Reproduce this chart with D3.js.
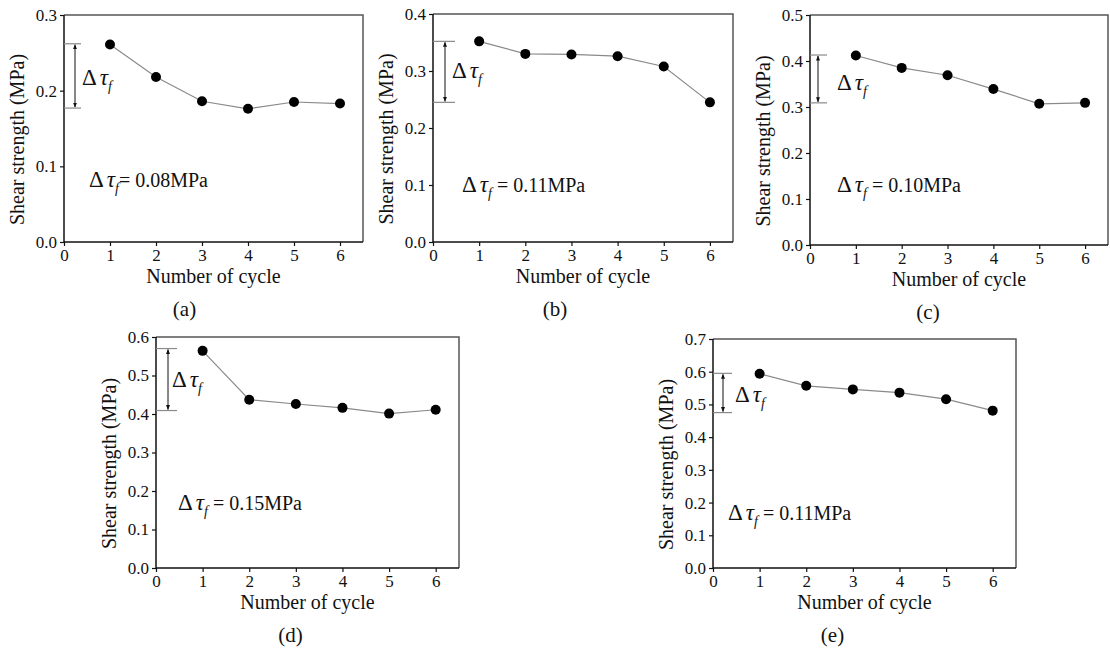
<!DOCTYPE html>
<html>
<head>
<meta charset="utf-8">
<script src="https://cdn.jsdelivr.net/npm/d3@7"></script>
<style>
  body { margin: 0; background: #fff; }
</style>
</head>
<body>
<svg id="chart" width="1110" height="652"></svg>
<script>
// data
const cycles = [1, 2, 3, 4, 5, 6];
const xTicks = [0, 1, 2, 3, 4, 5, 6];
const strengthA = [0.261, 0.218, 0.186, 0.176, 0.185, 0.183];
const strengthB = [0.352, 0.330, 0.329, 0.326, 0.308, 0.245];
const strengthC = [0.412, 0.385, 0.369, 0.339, 0.307, 0.309];
const strengthD = [0.564, 0.437, 0.426, 0.416, 0.401, 0.411];
const strengthE = [0.594, 0.557, 0.546, 0.536, 0.516, 0.481];
const yTicksA = [0, 0.1, 0.2, 0.3];
const yTicksB = [0, 0.1, 0.2, 0.3, 0.4];
const yTicksC = [0, 0.1, 0.2, 0.3, 0.4, 0.5];
const yTicksD = [0, 0.1, 0.2, 0.3, 0.4, 0.5, 0.6];
const yTicksE = [0, 0.1, 0.2, 0.3, 0.4, 0.5, 0.6, 0.7];
const bracketHigh = [0.262, 0.352, 0.413, 0.570, 0.595];
const bracketLow = [0.177, 0.245, 0.309, 0.409, 0.475];
const deltaLabels = ["= 0.08MPa", " = 0.11MPa", " = 0.10MPa", " = 0.15MPa", " = 0.11MPa"];
const panelLetters = ["(a)", "(b)", "(c)", "(d)", "(e)"];

const series = [strengthA, strengthB, strengthC, strengthD, strengthE];
const yTickSets = [yTicksA, yTicksB, yTicksC, yTicksD, yTicksE];

const FONT = '"Liberation Serif", "DejaVu Serif", "Times New Roman", Times, serif';

// panel boxes and annotation placement (pixels)
const layout = [
  {x0: 64,  x1: 363,  y0: 15,  y1: 242, bw: 17, ax: 11, lx: 18, ly: 9,  nx: 25, ny: 172, lt: -29},
  {x0: 433, x1: 733,  y0: 14,  y1: 242, bw: 22, ax: 12, lx: 19, ly: 6,  nx: 29, ny: 178, lt: -28},
  {x0: 810, x1: 1108, y0: 15,  y1: 245, bw: 17, ax: 8,  lx: 27, ly: 11, nx: 27, ny: 177, lt: -31},
  {x0: 156, x1: 459,  y0: 337, y1: 568, bw: 21, ax: 12, lx: 16, ly: 7,  nx: 22, ny: 173, lt: -17},
  {x0: 713, x1: 1016, y0: 339, y1: 568, bw: 19, ax: 10, lx: 22, ly: 9,  nx: 15, ny: 181, lt: -32}
];

const svg = d3.select('#chart');
const defs = svg.append('defs');
['arrEnd', 'arrStart'].forEach((id, i) => {
  defs.append('marker')
    .attr('id', id)
    .attr('viewBox', '0 0 10 10')
    .attr('refX', 9).attr('refY', 5)
    .attr('markerWidth', 5).attr('markerHeight', 5)
    .attr('orient', i == 0 ? 'auto' : 'auto-start-reverse')
    .append('path')
    .attr('d', 'M0,1 L10,5 L0,9 Z')
    .attr('fill', '#111');
});

function drawPanel(idx) {
  const L = layout[idx];
  const data = series[idx];
  const yTicks = yTickSets[idx];
  const yMax = yTicks[yTicks.length - 1];

  const x = d3.scaleLinear().domain([0, 6.5]).range([L.x0, L.x1]);
  const y = d3.scaleLinear().domain([0, yMax]).range([L.y1, L.y0]);
  const g = svg.append('g');

  // top/right frame
  g.append('path')
    .attr('d', `M${L.x0},${L.y0}H${L.x1}V${L.y1}`)
    .attr('fill', 'none')
    .attr('stroke', '#555')
    .attr('stroke-width', 1.5);

  const xAxis = g.append('g')
    .attr('transform', `translate(0,${L.y1})`)
    .call(d3.axisBottom(x).tickValues(xTicks).tickSize(4).tickSizeOuter(0).tickPadding(3).tickFormat(d3.format('d')));
  const yAxis = g.append('g')
    .attr('transform', `translate(${L.x0},0)`)
    .call(d3.axisLeft(y).tickValues(yTicks).tickSize(4).tickSizeOuter(0).tickPadding(3).tickFormat(d3.format('.1f')));
  [xAxis, yAxis].forEach(a => {
    a.attr('font-family', null).attr('font-size', null);
    a.select('.domain').attr('stroke', '#111').attr('stroke-width', 1.5);
    a.selectAll('.tick line').attr('stroke', '#111').attr('stroke-width', 1.2);
    a.selectAll('.tick text').style('font-size', '17px').attr('fill', '#111');
  });
  yAxis.select('.domain').attr('d', `M0,${L.y1}V${L.y0}`);
  xAxis.select('.domain').attr('d', `M${L.x0},0H${L.x1}`);

  // connecting line and markers
  const line = d3.line().x((d, i) => x(cycles[i])).y(d => y(d));
  g.append('path')
    .datum(data)
    .attr('d', line)
    .attr('fill', 'none')
    .attr('stroke', '#8a8a8a')
    .attr('stroke-width', 1.2);
  g.selectAll('circle')
    .data(data)
    .enter().append('circle')
    .attr('cx', (d, i) => x(cycles[i]))
    .attr('cy', d => y(d))
    .attr('r', 5)
    .attr('fill', '#000');

  // bracket with double arrow
  const yh = y(bracketHigh[idx]), yl = y(bracketLow[idx]);
  [yh, yl].forEach(v => {
    g.append('line')
      .attr('x1', L.x0).attr('x2', L.x0 + L.bw)
      .attr('y1', v).attr('y2', v)
      .attr('stroke', '#8a8a8a').attr('stroke-width', 1.2);
  });
  g.append('line')
    .attr('x1', L.x0 + L.ax).attr('x2', L.x0 + L.ax)
    .attr('y1', yh + 1).attr('y2', yl - 1)
    .attr('stroke', '#111').attr('stroke-width', 1)
    .attr('marker-start', 'url(#arrStart)')
    .attr('marker-end', 'url(#arrEnd)');

  const tauLabel = (sel) => {
    sel.append('tspan').style('font-size', '23px').text('\u0394');
    sel.append('tspan').attr('dx', 3).style('font-size', '23px').style('font-style', 'italic').text('\u03C4');
    sel.append('tspan').attr('dy', 6).style('font-size', '14px').style('font-style', 'italic').text('f');
  };
  const bl = g.append('text')
    .attr('x', L.x0 + L.lx)
    .attr('y', (yh + yl) / 2 + L.ly);
  tauLabel(bl);

  const note = g.append('text')
    .attr('x', L.x0 + L.nx)
    .attr('y', L.y0 + L.ny)
    .style('white-space', 'pre');
  tauLabel(note);
  note.append('tspan').attr('dy', -6).style('font-size', '20px').text(deltaLabels[idx]);

  // titles
  const midX = (L.x0 + L.x1) / 2;
  g.append('text')
    .attr('x', midX).attr('y', L.y1 + 41)
    .attr('text-anchor', 'middle')
    .style('font-size', '20px')
    .text('Number of cycle');
  g.append('text')
    .attr('transform', `translate(${L.x0 - 47},${(L.y0 + L.y1) / 2 + 11}) rotate(-90)`)
    .attr('dy', '0.35em')
    .attr('text-anchor', 'middle')
    .style('font-size', '20px')
    .text('Shear strength (MPa)');
  g.append('text')
    .attr('x', midX + L.lt).attr('y', L.y1 + 74)
    .attr('text-anchor', 'middle')
    .style('font-size', '21px')
    .text(panelLetters[idx]);
}

series.forEach((s, i) => drawPanel(i));

svg.selectAll('text')
  .style('font-family', FONT)
  .style('fill', '#111');
</script>
</body>
</html>
